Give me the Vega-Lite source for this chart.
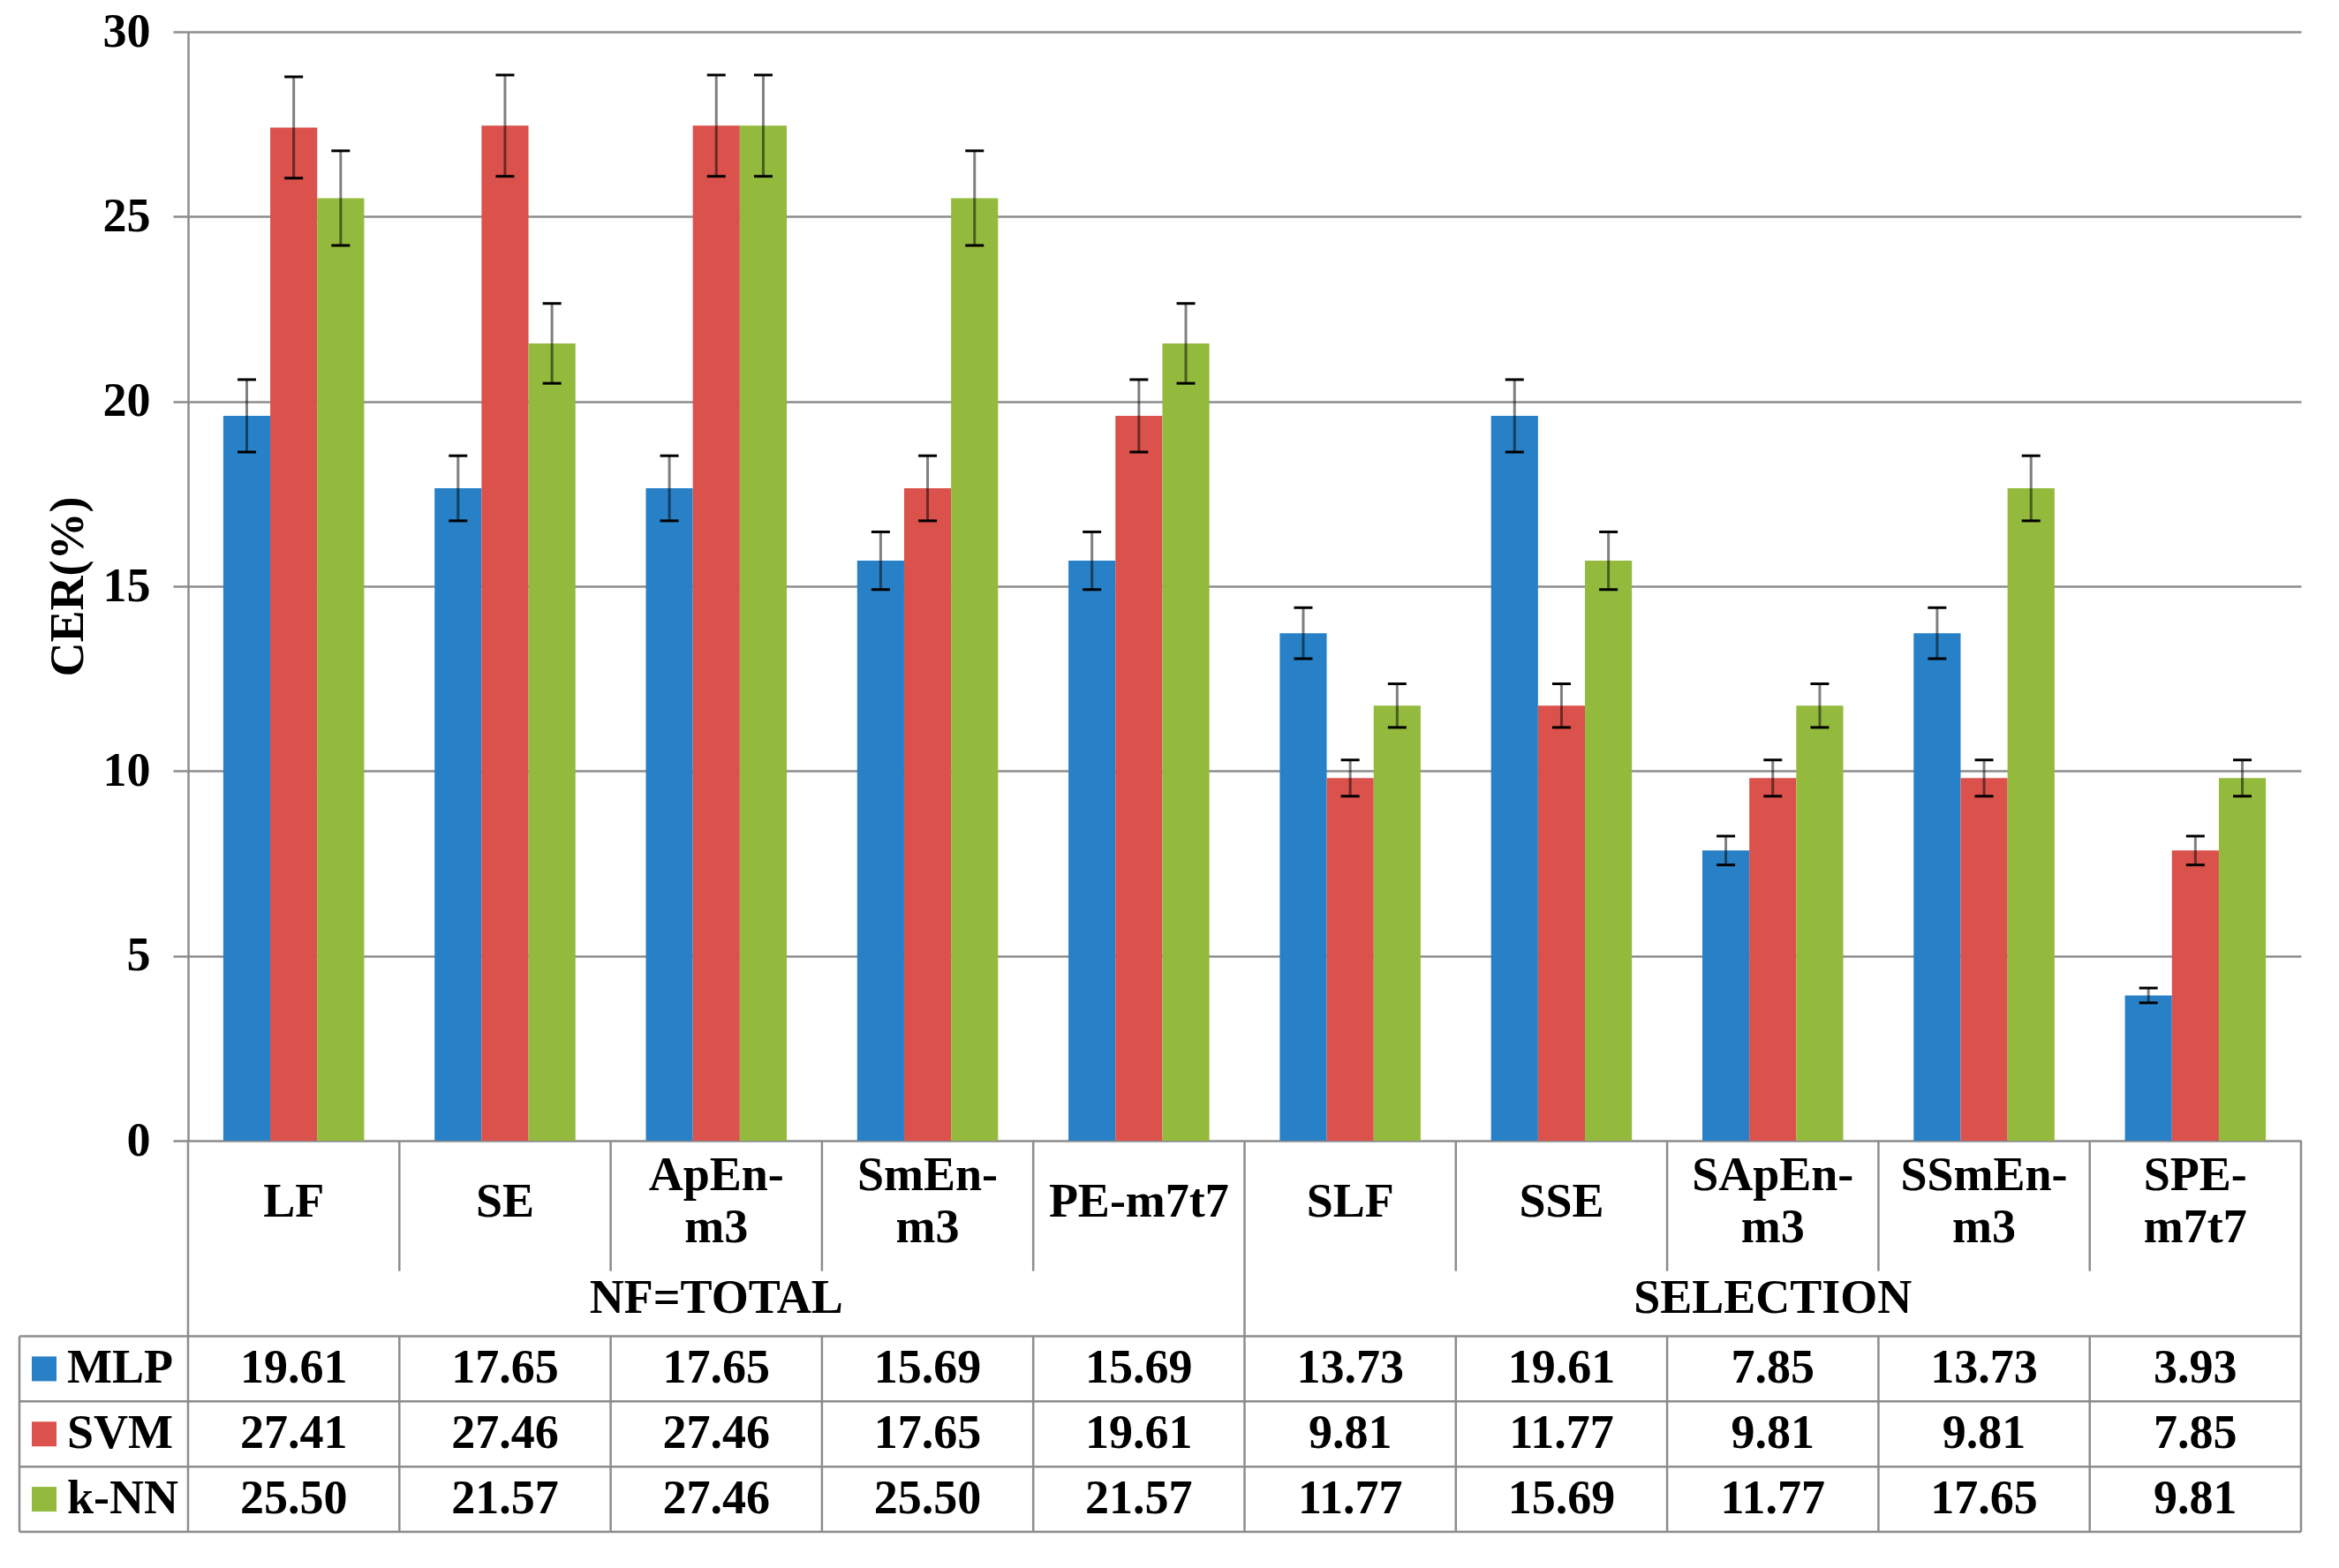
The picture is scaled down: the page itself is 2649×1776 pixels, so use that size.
{
  "$schema": "https://vega.github.io/schema/vega-lite/v6.json",
  "padding": {"left": 20, "top": 9, "right": 45, "bottom": 30},
  "bounds": "flush",
  "spacing": 0,
  "config": {
    "view": {"stroke": null},
    "font": "Liberation Serif, Times New Roman, serif"
  },
  "datasets": {
    "cer": [
      {"cat": "LF", "model": "MLP", "value": 19.61, "lo": 18.63, "hi": 20.59},
      {"cat": "LF", "model": "SVM", "value": 27.41, "lo": 26.04, "hi": 28.78},
      {"cat": "LF", "model": "k-NN", "value": 25.50, "lo": 24.22, "hi": 26.78},
      {"cat": "SE", "model": "MLP", "value": 17.65, "lo": 16.77, "hi": 18.53},
      {"cat": "SE", "model": "SVM", "value": 27.46, "lo": 26.09, "hi": 28.83},
      {"cat": "SE", "model": "k-NN", "value": 21.57, "lo": 20.49, "hi": 22.65},
      {"cat": "ApEn-m3", "model": "MLP", "value": 17.65, "lo": 16.77, "hi": 18.53},
      {"cat": "ApEn-m3", "model": "SVM", "value": 27.46, "lo": 26.09, "hi": 28.83},
      {"cat": "ApEn-m3", "model": "k-NN", "value": 27.46, "lo": 26.09, "hi": 28.83},
      {"cat": "SmEn-m3", "model": "MLP", "value": 15.69, "lo": 14.91, "hi": 16.47},
      {"cat": "SmEn-m3", "model": "SVM", "value": 17.65, "lo": 16.77, "hi": 18.53},
      {"cat": "SmEn-m3", "model": "k-NN", "value": 25.50, "lo": 24.22, "hi": 26.78},
      {"cat": "PE-m7t7", "model": "MLP", "value": 15.69, "lo": 14.91, "hi": 16.47},
      {"cat": "PE-m7t7", "model": "SVM", "value": 19.61, "lo": 18.63, "hi": 20.59},
      {"cat": "PE-m7t7", "model": "k-NN", "value": 21.57, "lo": 20.49, "hi": 22.65},
      {"cat": "SLF", "model": "MLP", "value": 13.73, "lo": 13.04, "hi": 14.42},
      {"cat": "SLF", "model": "SVM", "value": 9.81, "lo": 9.32, "hi": 10.30},
      {"cat": "SLF", "model": "k-NN", "value": 11.77, "lo": 11.18, "hi": 12.36},
      {"cat": "SSE", "model": "MLP", "value": 19.61, "lo": 18.63, "hi": 20.59},
      {"cat": "SSE", "model": "SVM", "value": 11.77, "lo": 11.18, "hi": 12.36},
      {"cat": "SSE", "model": "k-NN", "value": 15.69, "lo": 14.91, "hi": 16.47},
      {"cat": "SApEn-m3", "model": "MLP", "value": 7.85, "lo": 7.46, "hi": 8.24},
      {"cat": "SApEn-m3", "model": "SVM", "value": 9.81, "lo": 9.32, "hi": 10.30},
      {"cat": "SApEn-m3", "model": "k-NN", "value": 11.77, "lo": 11.18, "hi": 12.36},
      {"cat": "SSmEn-m3", "model": "MLP", "value": 13.73, "lo": 13.04, "hi": 14.42},
      {"cat": "SSmEn-m3", "model": "SVM", "value": 9.81, "lo": 9.32, "hi": 10.30},
      {"cat": "SSmEn-m3", "model": "k-NN", "value": 17.65, "lo": 16.77, "hi": 18.53},
      {"cat": "SPE-m7t7", "model": "MLP", "value": 3.93, "lo": 3.73, "hi": 4.13},
      {"cat": "SPE-m7t7", "model": "SVM", "value": 7.85, "lo": 7.46, "hi": 8.24},
      {"cat": "SPE-m7t7", "model": "k-NN", "value": 9.81, "lo": 9.32, "hi": 10.30}
    ],
    "cats1": [
      {"cat": "LF", "label": "LF"},
      {"cat": "SE", "label": "SE"},
      {"cat": "PE-m7t7", "label": "PE-m7t7"},
      {"cat": "SLF", "label": "SLF"},
      {"cat": "SSE", "label": "SSE"}
    ],
    "cats2": [
      {"cat": "ApEn-m3", "label": "ApEn-\nm3"},
      {"cat": "SmEn-m3", "label": "SmEn-\nm3"},
      {"cat": "SApEn-m3", "label": "SApEn-\nm3"},
      {"cat": "SSmEn-m3", "label": "SSmEn-\nm3"},
      {"cat": "SPE-m7t7", "label": "SPE-\nm7t7"}
    ],
    "groups": [
      {"cat": "ApEn-m3", "label": "NF=TOTAL"},
      {"cat": "SApEn-m3", "label": "SELECTION"}
    ],
    "models": [
      {"model": "MLP"},
      {"model": "SVM"},
      {"model": "k-NN"}
    ],
    "vsegs": [
      {"cat": "LF", "from": "c1", "to": "grp"},
      {"cat": "SE", "from": "c1", "to": "c2"},
      {"cat": "ApEn-m3", "from": "c1", "to": "c2"},
      {"cat": "SmEn-m3", "from": "c1", "to": "c2"},
      {"cat": "PE-m7t7", "from": "c1", "to": "c2"},
      {"cat": "SLF", "from": "c1", "to": "grp"},
      {"cat": "SSE", "from": "c1", "to": "c2"},
      {"cat": "SApEn-m3", "from": "c1", "to": "c2"},
      {"cat": "SSmEn-m3", "from": "c1", "to": "c2"},
      {"cat": "SPE-m7t7", "from": "c1", "to": "c2"},
      {"cat": "LF", "from": "MLP", "to": "k-NN"},
      {"cat": "SE", "from": "MLP", "to": "k-NN"},
      {"cat": "ApEn-m3", "from": "MLP", "to": "k-NN"},
      {"cat": "SmEn-m3", "from": "MLP", "to": "k-NN"},
      {"cat": "PE-m7t7", "from": "MLP", "to": "k-NN"},
      {"cat": "SLF", "from": "MLP", "to": "k-NN"},
      {"cat": "SSE", "from": "MLP", "to": "k-NN"},
      {"cat": "SApEn-m3", "from": "MLP", "to": "k-NN"},
      {"cat": "SSmEn-m3", "from": "MLP", "to": "k-NN"},
      {"cat": "SPE-m7t7", "from": "MLP", "to": "k-NN"}
    ]
  },
  "vconcat": [
    {
      "width": 2393,
      "height": 1256,
      "data": {"name": "cer"},
      "encoding": {
        "x": {
          "field": "cat", "type": "nominal", "sort": null,
          "scale": {"type": "band", "domain": ["LF","SE","ApEn-m3","SmEn-m3","PE-m7t7","SLF","SSE","SApEn-m3","SSmEn-m3","SPE-m7t7"], "paddingInner": 0, "paddingOuter": 0},
          "axis": null
        },
        "xOffset": {
          "field": "model", "type": "nominal",
          "scale": {"domain": ["MLP","SVM","k-NN"], "paddingInner": 0, "paddingOuter": 0.75}
        }
      },
      "layer": [
        {
          "mark": {"type": "bar"},
          "encoding": {
            "y": {
              "field": "value", "type": "quantitative", "title": "CER(%)",
              "scale": {"domain": [0, 30], "nice": false},
              "axis": {
                "values": [0, 5, 10, 15, 20, 25, 30],
                "grid": true, "gridColor": "#8c8c8c", "gridWidth": 2.5, "gridOpacity": 1,
                "domain": true, "domainColor": "#8c8c8c", "domainWidth": 2.5,
                "ticks": true, "tickColor": "#8c8c8c", "tickWidth": 2.5, "tickSize": 17,
                "labelFont": "Liberation Serif, Times New Roman, serif", "labelFontSize": 54, "labelFontWeight": "bold", "labelColor": "black", "labelPadding": 26,
                "titleFont": "Liberation Serif, Times New Roman, serif", "titleFontSize": 54, "titleFontWeight": "bold", "titleColor": "black", "titlePadding": 12
              }
            },
            "color": {
              "field": "model", "type": "nominal",
              "scale": {"domain": ["MLP","SVM","k-NN"], "range": ["#2880C6","#DB514B","#93BA3D"]},
              "legend": null
            }
          }
        },
        {
          "mark": {"type": "rule", "color": "black", "opacity": 0.5, "strokeWidth": 3},
          "encoding": {
            "y": {"field": "lo", "type": "quantitative", "title": "CER(%)"},
            "y2": {"field": "hi"}
          }
        },
        {
          "mark": {"type": "tick", "color": "black", "size": 21, "thickness": 3, "opacity": 1},
          "encoding": {
            "y": {"field": "lo", "type": "quantitative", "title": "CER(%)"}
          }
        },
        {
          "mark": {"type": "tick", "color": "black", "size": 21, "thickness": 3, "opacity": 1},
          "encoding": {
            "y": {"field": "hi", "type": "quantitative", "title": "CER(%)"}
          }
        }
      ]
    },
    {
      "width": 2393,
      "height": 443,
      "encoding": {
        "x": {
          "field": "cat", "type": "nominal", "sort": null,
          "scale": {"type": "band", "domain": ["LF","SE","ApEn-m3","SmEn-m3","PE-m7t7","SLF","SSE","SApEn-m3","SSmEn-m3","SPE-m7t7"], "paddingInner": 0, "paddingOuter": 0},
          "axis": null
        }
      },
      "layer": [
        {
          "data": {"name": "vsegs"},
          "mark": {"type": "rule", "color": "#8c8c8c", "strokeWidth": 2.5},
          "encoding": {
            "x": {"field": "cat", "type": "nominal", "bandPosition": 0, "sort": null},
            "y": {"field": "from", "type": "nominal", "bandPosition": 0, "sort": null,
                  "scale": {"type": "band", "domain": ["c1","c2","grp","MLP","SVM","k-NN"], "paddingInner": 0, "paddingOuter": 0},
                  "axis": null},
            "y2": {"field": "to", "bandPosition": 1}
          }
        },
        {
          "data": {"values": [{}]},
          "mark": {"type": "rule", "color": "#8c8c8c", "strokeWidth": 2.5},
          "encoding": {
            "x": {"datum": "SPE-m7t7", "type": "nominal", "bandPosition": 1},
            "y": {"datum": "c1", "type": "nominal", "bandPosition": 0},
            "y2": {"datum": "k-NN", "bandPosition": 1}
          }
        },
        {
          "data": {"values": [{}]},
          "mark": {"type": "rule", "color": "#8c8c8c", "strokeWidth": 2.5, "xOffset": -191},
          "encoding": {
            "x": {"datum": "LF", "type": "nominal", "bandPosition": 0},
            "y": {"datum": "MLP", "type": "nominal", "bandPosition": 0},
            "y2": {"datum": "k-NN", "bandPosition": 1}
          }
        },
        {
          "data": {"name": "models"},
          "mark": {"type": "rule", "color": "#8c8c8c", "strokeWidth": 2.5, "xOffset": -191},
          "encoding": {
            "x": {"datum": "LF", "type": "nominal", "bandPosition": 0},
            "x2": {"datum": "SPE-m7t7", "bandPosition": 1},
            "y": {"field": "model", "type": "nominal", "bandPosition": 0}
          }
        },
        {
          "data": {"values": [{}]},
          "mark": {"type": "rule", "color": "#8c8c8c", "strokeWidth": 2.5, "xOffset": -191},
          "encoding": {
            "x": {"datum": "LF", "type": "nominal", "bandPosition": 0},
            "x2": {"datum": "SPE-m7t7", "bandPosition": 1},
            "y": {"datum": "k-NN", "type": "nominal", "bandPosition": 1}
          }
        },
        {
          "data": {"name": "cats1"},
          "mark": {"type": "text", "fontSize": 54, "fontWeight": "bold", "color": "black", "baseline": "middle", "align": "center", "dy": -4},
          "encoding": {
            "x": {"field": "cat", "type": "nominal", "sort": null},
            "y": {"datum": "c2", "type": "nominal", "bandPosition": 0},
            "text": {"field": "label"}
          }
        },
        {
          "data": {"name": "cats2"},
          "mark": {"type": "text", "fontSize": 54, "fontWeight": "bold", "color": "black", "baseline": "middle", "align": "center", "lineBreak": "\n", "lineHeight": 59, "dy": -34},
          "encoding": {
            "x": {"field": "cat", "type": "nominal", "sort": null},
            "y": {"datum": "c2", "type": "nominal", "bandPosition": 0},
            "text": {"field": "label"}
          }
        },
        {
          "data": {"name": "groups"},
          "mark": {"type": "text", "fontSize": 54, "fontWeight": "bold", "color": "black", "baseline": "middle", "align": "center", "dy": -6},
          "encoding": {
            "x": {"field": "cat", "type": "nominal", "sort": null},
            "y": {"datum": "grp", "type": "nominal"},
            "text": {"field": "label"}
          }
        },
        {
          "data": {"name": "cer"},
          "mark": {"type": "text", "fontSize": 54, "fontWeight": "bold", "color": "black", "baseline": "middle", "align": "center"},
          "encoding": {
            "x": {"field": "cat", "type": "nominal", "sort": null},
            "y": {"field": "model", "type": "nominal"},
            "text": {"field": "value", "type": "quantitative", "format": ".2f"}
          }
        },
        {
          "data": {"name": "models"},
          "mark": {"type": "square", "size": 784, "filled": true, "opacity": 1, "xOffset": -163},
          "encoding": {
            "x": {"datum": "LF", "type": "nominal", "bandPosition": 0},
            "y": {"field": "model", "type": "nominal"},
            "color": {
              "field": "model", "type": "nominal",
              "scale": {"domain": ["MLP","SVM","k-NN"], "range": ["#2880C6","#DB514B","#93BA3D"]},
              "legend": null
            }
          }
        },
        {
          "data": {"name": "models"},
          "mark": {"type": "text", "fontSize": 54, "fontWeight": "bold", "color": "black", "baseline": "middle", "align": "left", "xOffset": -137},
          "encoding": {
            "x": {"datum": "LF", "type": "nominal", "bandPosition": 0},
            "y": {"field": "model", "type": "nominal"},
            "text": {"field": "model"}
          }
        }
      ]
    }
  ]
}
